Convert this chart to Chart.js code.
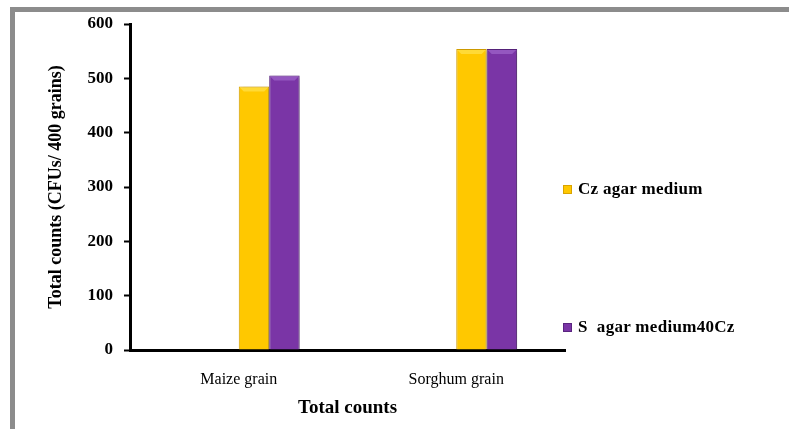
<!DOCTYPE html>
<html>
<head>
<meta charset="utf-8">
<script src="https://cdn.jsdelivr.net/npm/chart.js@4/dist/chart.umd.min.js"></script>
<style>
  html, body { margin: 0; padding: 0; background: #fff; overflow: hidden; }
  body { width: 789px; height: 429px; position: relative; font-family: "Liberation Serif", "Times New Roman", serif; }
  #frame { position: absolute; left: 10px; top: 7px; width: 900px; height: 500px; border: 5px solid #8c8c8c; box-sizing: border-box; }
  #wrap { position: absolute; left: 0; top: 0; width: 789px; height: 429px; }
  #legend { position: absolute; left: 563px; top: 0; font-weight: bold; font-size: 17px; letter-spacing: 0.3px; color: #000; }
  .item { position: absolute; white-space: pre; display: flex; align-items: center; }
  .swatch { width: 9px; height: 9px; margin-right: 6px; box-sizing: border-box; }
</style>
</head>
<body>
<div id="frame"></div>
<div id="wrap"><canvas id="c" width="789" height="429"></canvas></div>
<div id="legend"></div>
<script>
// Categories and series
const categories = ['Maize grain', 'Sorghum grain'];
const seriesNames = ['Cz agar medium', 'S agar medium40Cz'];
const czAgar = [485, 554];
const sAgar40Cz = [505, 554];
const yTicks = [0, 100, 200, 300, 400, 500, 600];
const seriesColors = ['#ffc800', '#7a35a6'];
const seriesEdges = ['#d9a300', '#5a2480'];
const seriesLights = ['#ffe14d', '#a066cc'];

const serif = '"Liberation Serif", "Times New Roman", serif';

// Slot holders keep each group's bars to the right of the category centre
const emptySlot = { label: '', data: [null, null], backgroundColor: 'rgba(0,0,0,0)' };

function barFill(i) {
  return (ctx) => {
    const { chart } = ctx;
    const el = ctx.element;
    if (!chart.chartArea || !el || el.x === undefined) return seriesColors[i];
    const w = el.width || 30;
    const g = chart.ctx.createLinearGradient(el.x - w / 2, 0, el.x + w / 2, 0);
    g.addColorStop(0, seriesEdges[i]);
    g.addColorStop(0.08, seriesColors[i]);
    g.addColorStop(0.9, seriesColors[i]);
    g.addColorStop(1, seriesEdges[i]);
    return g;
  };
}

// Soft drop shadow behind bars, plus a light bevel strip along each bar top
const barShadow = {
  id: 'barShadow',
  beforeDatasetsDraw(chart) {
    const c = chart.ctx;
    c.save();
    c.shadowColor = 'rgba(0,0,0,0.25)';
    c.shadowBlur = 4;
    c.shadowOffsetX = 2;
    c.shadowOffsetY = 1;
  },
  afterDatasetsDraw(chart) {
    const c = chart.ctx;
    c.restore();
    [2, 3].forEach((di) => {
      const meta = chart.getDatasetMeta(di);
      const ci = di - 2;
      meta.data.forEach((bar) => {
        if (bar.y === undefined || isNaN(bar.y)) return;
        const l = bar.x - bar.width / 2, r = bar.x + bar.width / 2, t = bar.y;
        c.save();
        c.fillStyle = seriesLights[ci];
        c.globalAlpha = 0.7;
        c.beginPath();
        c.moveTo(l + 1, t + 1);
        c.lineTo(r - 1, t + 1);
        c.lineTo(r - 5, t + 5);
        c.lineTo(l + 5, t + 5);
        c.closePath();
        c.fill();
        c.restore();
      });
    });
  }
};

const chart = new Chart(document.getElementById('c'), {
  type: 'bar',
  data: {
    labels: categories,
    datasets: [
      emptySlot,
      Object.assign({}, emptySlot),
      { label: seriesNames[0], data: czAgar, backgroundColor: barFill(0), borderColor: seriesEdges[0], borderWidth: 1 },
      { label: seriesNames[1], data: sAgar40Cz, backgroundColor: barFill(1), borderColor: seriesEdges[1], borderWidth: 1 }
    ]
  },
  plugins: [barShadow],
  options: {
    responsive: false,
    animation: false,
    layout: { padding: { left: 0, top: 24, right: 224, bottom: 0 } },
    datasets: { bar: { categoryPercentage: 0.56, barPercentage: 1.0 } },
    plugins: {
      legend: { display: false },
      tooltip: { enabled: false }
    },
    scales: {
      x: {
        grid: { display: false },
        border: { display: true, color: '#000', width: 3 },
        ticks: { color: '#000', padding: 12, font: { family: serif, size: 16 }, maxRotation: 0 },
        title: { display: true, text: 'Total counts', color: '#000', font: { family: serif, size: 19, weight: 'bold' }, padding: { top: 0, bottom: 10 } },
        afterFit(scale) { scale.height = 79; }
      },
      y: {
        min: 0,
        max: 600,
        afterBuildTicks(scale) { scale.ticks = yTicks.map(v => ({ value: v })); },
        grid: { display: true, drawOnChartArea: false, drawTicks: true, tickLength: 6, tickWidth: 2, color: '#000' },
        border: { display: true, color: '#000', width: 3 },
        ticks: { color: '#000', padding: 11, font: { family: serif, size: 17, weight: 'bold' } },
        title: { display: true, text: 'Total counts (CFUs/ 400 grains)', color: '#000', font: { family: serif, size: 18, weight: 'bold' }, padding: { top: 46, bottom: 0 } },
        afterFit(scale) { scale.width = 130; }
      }
    }
  }
});

// Legend entries stacked down the right-hand side
const legendTops = [190, 328];
const legendEl = document.getElementById('legend');
seriesNames.forEach((name, i) => {
  const item = document.createElement('div');
  item.className = 'item';
  item.style.top = (legendTops[i] - 11) + 'px';
  const sw = document.createElement('span');
  sw.className = 'swatch';
  sw.style.background = seriesColors[i];
  sw.style.border = '1px solid ' + seriesEdges[i];
  const tx = document.createElement('span');
  tx.textContent = name.replace('S ', 'S  ');
  item.appendChild(sw);
  item.appendChild(tx);
  legendEl.appendChild(item);
});
</script>
</body>
</html>
